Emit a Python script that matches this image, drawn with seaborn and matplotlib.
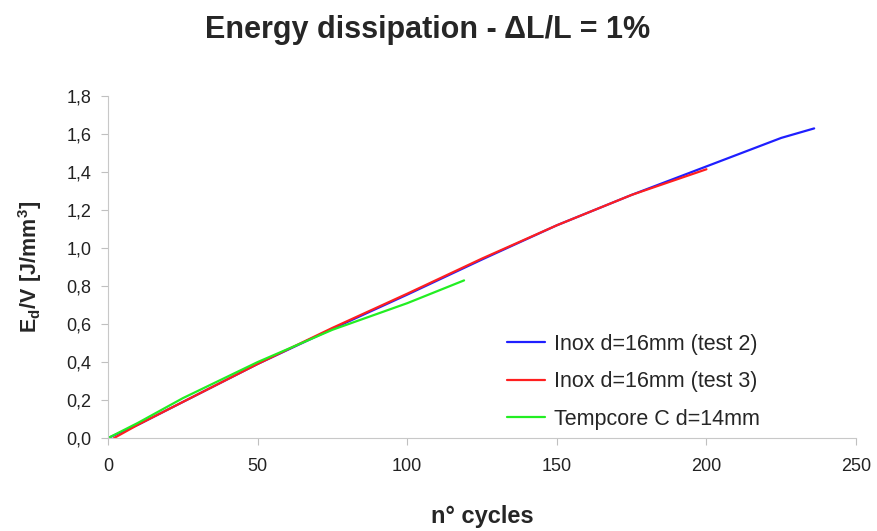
import pandas as pd
import seaborn as sns
import matplotlib.pyplot as plt
from matplotlib.ticker import FuncFormatter

cycles_t2 = [0, 10, 25, 50, 75, 100, 125, 150, 175, 200, 215, 225, 236]
energy_t2 = [0.0, 0.07, 0.19, 0.39, 0.575, 0.755, 0.94, 1.12, 1.28, 1.43, 1.52, 1.58, 1.63]

cycles_t3 = [2, 10, 25, 50, 75, 100, 125, 150, 175, 200]
energy_t3 = [0.0, 0.07, 0.19, 0.39, 0.58, 0.76, 0.945, 1.12, 1.28, 1.415]

cycles_tc = [0, 10, 25, 50, 75, 100, 119]
energy_tc = [0.0, 0.08, 0.21, 0.40, 0.57, 0.71, 0.83]

labels = ['Inox d=16mm (test 2)', 'Inox d=16mm (test 3)', 'Tempcore C d=14mm']
colors = ['#1f1fff', '#ff1f1f', '#22ee22']

df = pd.concat([
    pd.DataFrame({'cycles': cycles_t2, 'energy': energy_t2, 'series': labels[0]}),
    pd.DataFrame({'cycles': cycles_t3, 'energy': energy_t3, 'series': labels[1]}),
    pd.DataFrame({'cycles': cycles_tc, 'energy': energy_tc, 'series': labels[2]}),
])

sns.set_style('ticks')
plt.rcParams['font.family'] = ['Liberation Sans', 'DejaVu Sans']
plt.rcParams['mathtext.fontset'] = 'custom'
plt.rcParams['mathtext.bf'] = 'Liberation Sans:bold'
plt.rcParams['mathtext.rm'] = 'Liberation Sans'

fig = plt.figure(figsize=(8.78, 5.31), dpi=100)
ax = fig.add_axes([0.123, 0.175, 0.852, 0.644])

sns.lineplot(data=df, x='cycles', y='energy', hue='series', palette=colors,
             sort=False, estimator=None, linewidth=1.6, ax=ax)

ax.set_xlim(0, 250)
ax.set_ylim(0, 1.8)
ax.set_xticks(range(0, 251, 50))
ax.set_yticks([i * 0.2 for i in range(10)])
ax.yaxis.set_major_formatter(FuncFormatter(lambda v, p: f'{v:.1f}'.replace('.', ',')))
ax.tick_params(labelsize=13, color='#c0c0c0', length=5, labelcolor='#222222')
ax.tick_params(axis='x', pad=9)
ax.tick_params(axis='y', pad=7)
for s in ['left', 'bottom']:
    ax.spines[s].set_color('#c8c8c8')
sns.despine(ax=ax)

ax.set_xlabel('n° cycles', fontsize=17, fontweight='bold')
ax.xaxis.set_label_coords(0.5, -0.195)
ax.set_ylabel(r'$\mathbf{E_{d}/V\ [J/mm^{3}]}$', fontsize=15.5)
ax.yaxis.set_label_coords(-0.086, 0.5)
fig.suptitle('Energy dissipation - ΔL/L = 1%', x=0.487, y=0.972,
             fontsize=22, fontweight='bold')

ax.legend(frameon=False, loc='lower left', bbox_to_anchor=(0.508, -0.032),
          fontsize=15.5, labelspacing=0.76, handlelength=1.75, handletextpad=0.4)

plt.savefig('out.png', dpi=100)
